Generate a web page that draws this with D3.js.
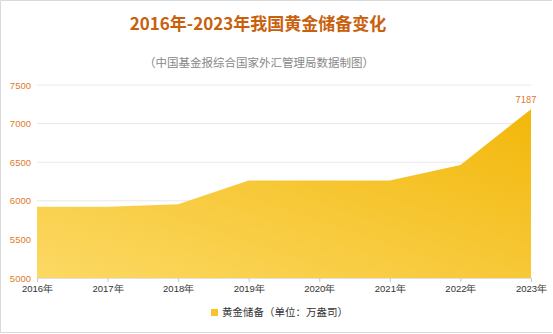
<!DOCTYPE html>
<html>
<head>
<meta charset="utf-8">
<script src="https://cdn.jsdelivr.net/npm/d3@7"></script>
<style>
  body { margin: 0; background: #fff; }
  svg { display: block; font-family: "Noto Sans CJK SC", "Noto Sans", sans-serif; }
</style>
</head>
<body>
<script>
var w = 553, h = 334,
    margin = { top: 85, right: 22, bottom: 56, left: 37 };

var years = ["2016年", "2017年", "2018年", "2019年", "2020年", "2021年", "2022年", "2023年"];
var reserves = [5924, 5924, 5956, 6264, 6264, 6264, 6464, 7187];
var yTicks = [5000, 5500, 6000, 6500, 7000, 7500];

var data = years.map(function (d, i) { return { year: d, value: reserves[i] } });

var svg = d3.select("body").append("svg").attr("width", w).attr("height", h);

// frame (left, top, bottom)
svg.append("path").attr("d", "M" + (w - 1) + ",0.5H0.5V332.5H" + (w - 1))
    .attr("fill", "none").attr("stroke", "#d9d9d9");

var x = d3.scalePoint().domain(years).range([margin.left, w - margin.right]);
var y = d3.scaleLinear().domain([5000, 7500]).range([h - margin.bottom, margin.top]);

var defs = svg.append("defs");
var grad = defs.append("linearGradient").attr("id", "gold")
    .attr("x1", "0%").attr("y1", "100%").attr("x2", "100%").attr("y2", "0%");
grad.append("stop").attr("offset", "0%").attr("stop-color", "#fcd964");
grad.append("stop").attr("offset", "100%").attr("stop-color", "#f2b70a");

// grid
svg.append("g").selectAll("line").data(yTicks.slice(1)).enter().append("line")
    .attr("x1", margin.left).attr("x2", w - margin.right)
    .attr("y1", function (d) { return y(d) }).attr("y2", function (d) { return y(d) })
    .attr("stroke", "#e8e8e8");

// area
var area = d3.area()
    .x(function (d) { return x(d.year) })
    .y0(y(5000))
    .y1(function (d) { return y(d.value) });
svg.append("path").datum(data).attr("d", area).attr("fill", "url(#gold)");

// x axis
var xAxis = svg.append("g").attr("transform", "translate(0," + y(5000) + ")")
    .call(d3.axisBottom(x).tickSize(4).tickPadding(3));
xAxis.select(".domain").attr("stroke", "#e0e0e0");
xAxis.selectAll(".tick line").attr("stroke", "#c8c8c8");
xAxis.selectAll("text").attr("fill", "#333").style("font-size", "9.5px");

// y axis
var yAxis = svg.append("g").attr("transform", "translate(" + margin.left + ",0)")
    .call(d3.axisLeft(y).tickValues(yTicks).tickSize(0).tickPadding(6).tickFormat(d3.format("d")));
yAxis.select(".domain").remove();
yAxis.selectAll("text").attr("fill", "#e07b2a").style("font-size", "9.5px");

// last value label
var last = data[data.length - 1];
svg.append("text").attr("x", x(last.year) - 5).attr("y", y(last.value) - 6)
    .attr("text-anchor", "middle").attr("fill", "#e07b2a").style("font-size", "9.5px")
    .text(last.value);

// titles
svg.append("text").attr("x", 258).attr("y", 30).attr("text-anchor", "middle")
    .attr("fill", "#c9600c").style("font-size", "17px").style("font-weight", "bold")
    .text("2016年-2023年我国黄金储备变化");
svg.append("text").attr("x", 259).attr("y", 67).attr("text-anchor", "middle")
    .attr("fill", "#888").style("font-size", "11.5px")
    .text("（中国基金报综合国家外汇管理局数据制图）");

// legend
svg.append("rect").attr("x", 211).attr("y", 309).attr("width", 7).attr("height", 7).attr("fill", "#f7c42a");
svg.append("text").attr("x", 222).attr("y", 316).attr("fill", "#333").style("font-size", "10.5px")
    .text("黄金储备（单位：万盎司）");
</script>
</body>
</html>
